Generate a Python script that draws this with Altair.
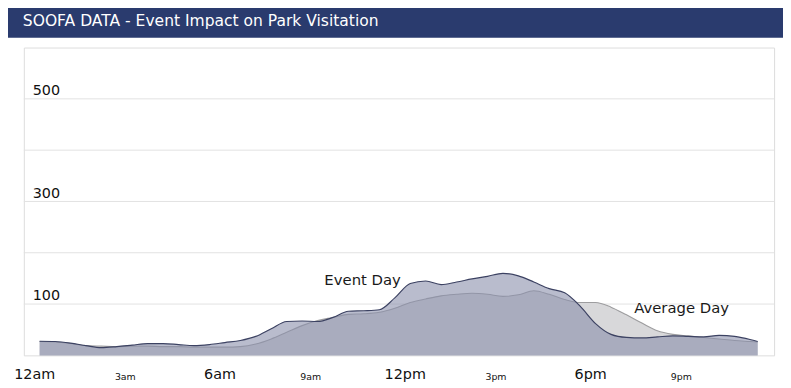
import altair as alt
import pandas as pd

# ---- data ----
hours = [0, 0.5, 1, 1.5, 2, 2.5, 3, 3.5, 4, 4.5, 5, 5.5, 6, 6.5, 7, 7.5, 8, 8.5,
         9, 9.5, 10, 10.5, 11, 11.5, 12, 12.5, 13, 13.5, 14, 14.5, 15, 15.5, 16,
         16.5, 17, 17.5, 18, 18.5, 19, 19.5, 20, 20.5, 21, 21.5, 22, 22.5, 23, 23.25]
event_day = [27.5, 27, 24, 19, 15, 17, 20, 23, 23, 21, 19, 21, 25, 29, 37, 52, 66, 67,
             66, 74, 86, 87, 89, 112, 140, 145, 138, 143, 149, 154, 160, 155, 143,
             130, 122, 96, 62, 41, 35, 34, 36, 38, 37, 36, 39, 37, 31, 27]
average_day = [27, 26, 23, 19, 18, 17, 18, 18, 17, 17, 16, 16, 16, 17, 22, 32, 45, 58,
               68, 74, 80, 81, 84, 92, 103, 110, 116, 119, 121, 119, 115, 118, 126,
               119, 109, 103, 103, 94, 79, 63, 48, 41, 38, 35, 32, 29, 27, 26]
tick_hours = [0, 3, 6, 9, 12, 15, 18, 21]
tick_labels = ['12am', '3am', '6am', '9am', '12pm', '3pm', '6pm', '9pm']
grid_values = [100, 200, 300, 400, 500]
y_label_values = [100, 300, 500]
annotations = ["Event Day", "Average Day"]
annotation_hours = [9.22, 19.25]
annotation_values = [137, 83]
title_text = "SOOFA DATA - Event Impact on Park Visitation"

df = pd.DataFrame({"hour": hours, "event": event_day, "average": average_day})
ann_df = pd.DataFrame({"label": annotations, "h": annotation_hours, "v": annotation_values})
grid_df = pd.DataFrame({"v": grid_values})
ylab_df = pd.DataFrame({"v": y_label_values, "t": [str(v) for v in y_label_values]})
xlab_df = pd.DataFrame({"h": tick_hours, "t": tick_labels})
title_df = pd.DataFrame({"t": [title_text]})

x_scale = alt.Scale(domain=[-0.51, 23.78], nice=False, zero=False)
y_scale = alt.Scale(domain=[0, 600], nice=False)

grid = alt.Chart(grid_df).mark_rule(color="#e2e2e2", strokeWidth=1).encode(
    y=alt.Y("v:Q", scale=y_scale, axis=None),
    x=alt.value(0), x2=alt.value(758),
)

avg_area = alt.Chart(df).mark_area(
    interpolate="monotone", color="#d8d8da", opacity=1,
    line={"color": "#9d9d9f", "strokeWidth": 1.1},
).encode(
    x=alt.X("hour:Q", scale=x_scale, axis=None),
    y=alt.Y("average:Q", scale=y_scale, axis=None),
)

event_area = alt.Chart(df).mark_area(
    interpolate="monotone", color="#8a8fab", opacity=0.6,
    line={"color": "#3c4262", "strokeWidth": 1.2},
).encode(
    x=alt.X("hour:Q", scale=x_scale, axis=None),
    y=alt.Y("event:Q", scale=y_scale, axis=None),
)

ann = alt.Chart(ann_df).mark_text(
    align="left", baseline="alphabetic", fontSize=15, font="DejaVu Sans", color="#1a1a1a"
).encode(
    x=alt.X("h:Q", scale=x_scale, axis=None),
    y=alt.Y("v:Q", scale=y_scale, axis=None),
    text="label:N",
)

ylabels = alt.Chart(ylab_df).mark_text(
    align="left", baseline="alphabetic", fontSize=14.5, font="DejaVu Sans",
    color="#111111", dy=-4
).encode(
    x=alt.value(9),
    y=alt.Y("v:Q", scale=y_scale, axis=None),
    text="t:N",
)

xlabels_big = alt.Chart(xlab_df).transform_filter("datum.h % 6 === 0").mark_text(
    align="center", baseline="alphabetic", fontSize=14.5, font="DejaVu Sans",
    color="#111111", dx=-5
).encode(
    x=alt.X("h:Q", scale=x_scale, axis=None),
    y=alt.value(311 + 24),
    text="t:N",
)
xlabels_small = alt.Chart(xlab_df).transform_filter("datum.h % 6 !== 0").mark_text(
    align="center", baseline="alphabetic", fontSize=9.5, font="DejaVu Sans",
    color="#111111", dx=-7
).encode(
    x=alt.X("h:Q", scale=x_scale, axis=None),
    y=alt.value(311 + 25),
    text="t:N",
)

header = alt.Chart(title_df).mark_rect(color="#2a3b6e").encode(
    x=alt.value(-30), x2=alt.value(790), y=alt.value(-50), y2=alt.value(-10)
)
title = alt.Chart(title_df).mark_text(
    align="left", baseline="alphabetic", fontSize=15.7, font="DejaVu Sans", color="#ffffff"
).encode(
    x=alt.value(-1), y=alt.value(-21.7), text="t:N"
)

chart = alt.layer(grid, avg_area, event_area, ann, ylabels, xlabels_big, xlabels_small,
                  header, title).properties(
    width=758, height=311,
    autosize=alt.AutoSizeParams(type="none"),
    padding={"left": 16, "top": 38, "right": 9, "bottom": 31},
    background="#ffffff",
).configure_view(
    stroke="#dedede", strokeWidth=1, fill="#ffffff"
).configure(font="DejaVu Sans")

chart.save("out.html", embed_options={"renderer": "svg", "actions": False})
